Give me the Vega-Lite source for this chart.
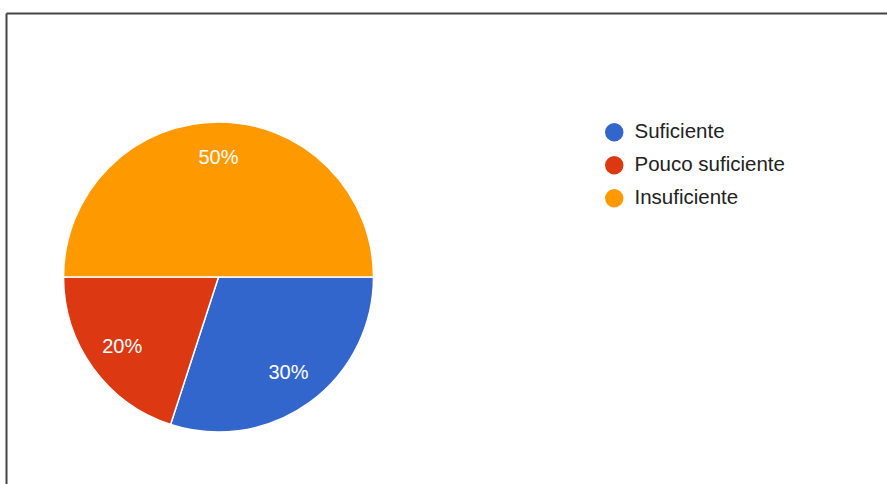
{
  "$schema": "https://vega.github.io/schema/vega-lite/v6.json",
  "autosize": {"type": "none"},
  "padding": {"left": 6, "top": 13, "right": 0, "bottom": 0},
  "width": 881,
  "height": 471,
  "background": "white",
  "config": {
    "view": {"stroke": null},
    "font": "Liberation Sans"
  },
  "data": {
    "values": [
      {"category": "Suficiente", "percent": 30},
      {"category": "Pouco suficiente", "percent": 20},
      {"category": "Insuficiente", "percent": 50}
    ]
  },
  "layer": [
    {
      "mark": {"type": "point", "opacity": 0},
      "encoding": {
        "x": {"field": "percent", "type": "quantitative", "axis": {"orient": "top", "domainColor": "#444444", "domainWidth": 2, "ticks": false, "labels": false, "grid": false, "title": null}},
        "y": {"field": "percent", "type": "quantitative", "axis": {"orient": "left", "domainColor": "#444444", "domainWidth": 2, "ticks": false, "labels": false, "grid": false, "title": null}}
      }
    },
    {
      "mark": {"type": "arc", "outerRadius": 155, "stroke": "white", "strokeWidth": 1.5, "x": 212.5, "y": 264},
      "encoding": {
        "theta": {"field": "percent", "type": "quantitative", "stack": true, "scale": {"range": [1.5708, 7.854]}},
        "order": {"field": "category", "sort": "descending"},
        "color": {
          "field": "category",
          "type": "nominal",
          "scale": {"domain": ["Suficiente", "Pouco suficiente", "Insuficiente"], "range": ["#3366cc", "#dc3912", "#ff9900"]},
          "legend": {
            "title": null,
            "orient": "none",
            "legendX": 598,
            "legendY": 109,
            "symbolType": "circle",
            "symbolSize": 340,
            "symbolStrokeWidth": 0,
            "labelFont": "Liberation Sans",
            "labelFontSize": 20.5,
            "labelColor": "#222222",
            "labelOffset": 10,
            "rowPadding": 12,
            "padding": 0
          }
        }
      }
    },
    {
      "mark": {"type": "text", "radius": 119, "x": 212.5, "y": 264, "fontSize": 20, "fill": "white", "align": "center", "baseline": "middle", "font": "Liberation Sans"},
      "encoding": {
        "theta": {"field": "percent", "type": "quantitative", "stack": true, "scale": {"range": [1.5708, 7.854]}},
        "order": {"field": "category", "sort": "descending"},
        "text": {"field": "label", "type": "nominal"}
      },
      "transform": [{"calculate": "datum.percent + '%'", "as": "label"}]
    }
  ]
}
